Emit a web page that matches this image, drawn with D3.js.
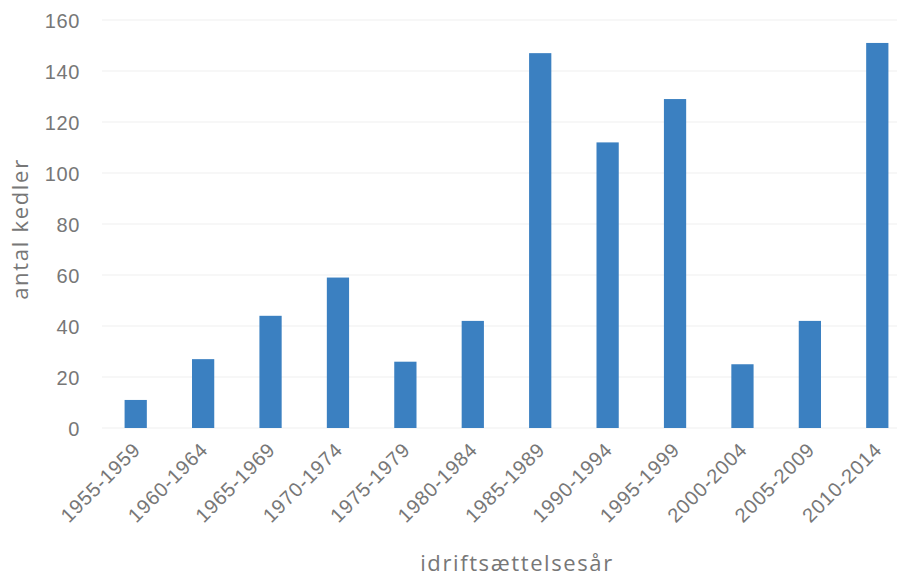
<!DOCTYPE html>
<html>
<head>
<meta charset="utf-8">
<script src="https://cdn.jsdelivr.net/npm/d3@7"></script>
<style>
  html, body { margin: 0; padding: 0; background: #ffffff; }
  svg { display: block; font-family: "Open Sans", sans-serif; }
</style>
</head>
<body>
<svg id="chart" width="897" height="577"></svg>
<script>
// Number of boilers by commissioning period
const periods = ["1955-1959", "1960-1964", "1965-1969", "1970-1974", "1975-1979", "1980-1984",
                 "1985-1989", "1990-1994", "1995-1999", "2000-2004", "2005-2009", "2010-2014"];
const counts = [11, 27, 44, 59, 26, 42, 147, 112, 129, 25, 42, 151];
const yTicks = [0, 20, 40, 60, 80, 100, 120, 140, 160];

(function () {
  const svg = d3.select("#chart");
  const textColor = "#777777";
  const barColor = "#3b80c1";

  // plot area (the category band runs slightly past the right edge)
  const plotLeft = 102, plotRight = 911, plotTop = 20, plotBottom = 428;

  const x = d3.scaleBand().domain(periods).range([plotLeft, plotRight]).paddingInner(0.67).paddingOuter(0.335);
  const y = d3.scaleLinear().domain([0, 160]).range([plotBottom, plotTop]);

  // faint horizontal gridlines
  svg.append("g")
    .selectAll("line")
    .data(yTicks)
    .join("line")
    .attr("x1", plotLeft).attr("x2", 897)
    .attr("y1", d => y(d)).attr("y2", d => y(d))
    .attr("stroke", "#efefef")
    .attr("stroke-width", 1);

  // y axis labels
  const yAxis = svg.append("g")
    .attr("transform", `translate(${plotLeft - 22},0)`)
    .call(d3.axisLeft(y).tickValues(yTicks).tickSize(0).tickPadding(0));
  yAxis.select(".domain").remove();
  yAxis.selectAll("text")
    .attr("fill", textColor)
    .style("font-size", "20px")
    .style("letter-spacing", "0.6px")
    .attr("dy", "0.35em");

  // bars
  svg.append("g")
    .selectAll("rect")
    .data(counts)
    .join("rect")
    .attr("x", (d, i) => x(periods[i]))
    .attr("width", x.bandwidth())
    .attr("y", d => y(d))
    .attr("height", d => y(0) - y(d))
    .attr("fill", barColor);

  // x axis labels, rotated
  const xAxis = svg.append("g")
    .attr("transform", `translate(0,${plotBottom + 10})`)
    .call(d3.axisBottom(x).tickSize(0).tickPadding(0));
  xAxis.select(".domain").remove();
  xAxis.selectAll("text")
    .attr("fill", textColor)
    .style("font-size", "20px")
    .style("letter-spacing", "0.8px")
    .attr("text-anchor", "end")
    .attr("dy", "0.35em")
    .attr("transform", "translate(1,8) rotate(-45)");

  // axis titles
  svg.append("text")
    .attr("transform", `translate(28,${(plotTop + plotBottom) / 2 + 5}) rotate(-90)`)
    .attr("text-anchor", "middle")
    .attr("fill", textColor)
    .style("font-size", "22px")
    .style("letter-spacing", "1.7px")
    .text("antal kedler");

  svg.append("text")
    .attr("x", 517)
    .attr("y", 571)
    .attr("text-anchor", "middle")
    .attr("fill", textColor)
    .style("font-size", "22px")
    .style("letter-spacing", "1.6px")
    .text("idriftsættelsesår");
})();
</script>
</body>
</html>
